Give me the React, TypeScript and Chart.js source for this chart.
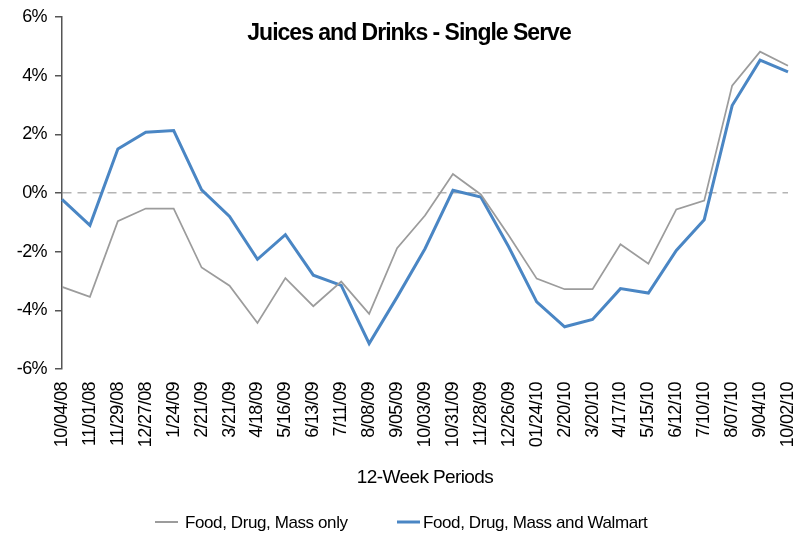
import React, { useEffect, useRef } from 'react';
import { Chart, registerables } from 'chart.js';

Chart.register(...registerables);

const TITLE = 'Juices and Drinks - Single Serve';
const X_TITLE = '12-Week Periods';

const periods = [
  '10/04/08', '11/01/08', '11/29/08', '12/27/08', '1/24/09', '2/21/09', '3/21/09',
  '4/18/09', '5/16/09', '6/13/09', '7/11/09', '8/08/09', '9/05/09', '10/03/09',
  '10/31/09', '11/28/09', '12/26/09', '01/24/10', '2/20/10', '3/20/10', '4/17/10',
  '5/15/10', '6/12/10', '7/10/10', '8/07/10', '9/04/10', '10/02/10',
];

const fdmOnly = [
  -3.2, -3.54, -0.96, -0.53, -0.53, -2.54, -3.16, -4.43, -2.9, -3.86, -3.02, -4.12, -1.88,
  -0.77, 0.65, -0.05, -1.45, -2.92, -3.28, -3.28, -1.75, -2.41, -0.56, -0.26, 3.66, 4.82, 4.34,
];

const fdmWalmart = [
  -0.22, -1.1, 1.5, 2.07, 2.13, 0.11, -0.8, -2.26, -1.42, -2.8, -3.15, -5.13, -3.55,
  -1.9, 0.09, -0.14, -1.84, -3.71, -4.56, -4.31, -3.26, -3.41, -1.96, -0.91, 2.98, 4.53, 4.13,
];

const seriesNames = ['Food, Drug, Mass only', 'Food, Drug, Mass and Walmart'];
const seriesColors = ['#9c9c9c', '#4a86c4'];

const FONT = '"Liberation Sans", Arial, sans-serif';

const spacingPlugin = {
  id: 'tightText',
  beforeDraw(chart: any) {
    chart.ctx.letterSpacing = '-0.6px';
  },
};

const titlePlugin = {
  id: 'overlayTitle',
  afterDraw(chart: any) {
    const ctx = chart.ctx;
    ctx.save();
    ctx.letterSpacing = '-1px';
    ctx.font = `bold 23px ${FONT}`;
    ctx.fillStyle = '#000';
    ctx.textAlign = 'center';
    ctx.textBaseline = 'alphabetic';
    ctx.fillText(TITLE, 409, 40);
    ctx.restore();
  },
};

const legendPlugin = {
  id: 'bottomLegend',
  afterDraw(chart: any) {
    const ctx = chart.ctx;
    const ds = chart.data.datasets;
    const items = [
      { lineX: 155, textX: 185 },
      { lineX: 397, textX: 423 },
    ];
    ctx.save();
    ctx.letterSpacing = '-0.4px';
    ctx.font = `17px ${FONT}`;
    ctx.textAlign = 'left';
    ctx.textBaseline = 'middle';
    const y = 522;
    items.forEach((it, i) => {
      const d = ds[i];
      ctx.strokeStyle = d.borderColor;
      ctx.lineWidth = i === 0 ? 2 : 3;
      ctx.beginPath();
      ctx.moveTo(it.lineX, y);
      ctx.lineTo(it.lineX + 23, y);
      ctx.stroke();
      ctx.fillStyle = '#000';
      ctx.fillText(d.label, it.textX, y + 1);
    });
    ctx.restore();
  },
};

export default function App() {
  const canvasRef = useRef<HTMLCanvasElement | null>(null);

  useEffect(() => {
    if (!canvasRef.current) return;
    const chart = new Chart(canvasRef.current, {
      type: 'line',
      data: {
        labels: periods,
        datasets: [
          {
            label: seriesNames[0],
            data: fdmOnly,
            borderColor: seriesColors[0],
            backgroundColor: seriesColors[0],
            borderWidth: 1.75,
            pointRadius: 0,
            tension: 0,
            fill: false,
          },
          {
            label: seriesNames[1],
            data: fdmWalmart,
            borderColor: seriesColors[1],
            backgroundColor: seriesColors[1],
            borderWidth: 3,
            pointRadius: 0,
            tension: 0,
            fill: false,
          },
        ],
      },
      options: {
        animation: false,
        responsive: true,
        maintainAspectRatio: false,
        layout: { padding: { top: 17, right: 17, bottom: 40, left: 0 } },
        plugins: {
          legend: { display: false },
          title: { display: false },
          tooltip: { enabled: false },
        },
        scales: {
          x: {
            type: 'category',
            offset: false,
            grid: { display: false, drawTicks: false },
            border: { display: false },
            ticks: {
              autoSkip: false,
              maxRotation: 90,
              minRotation: 90,
              padding: 13,
              color: '#000',
              font: { family: FONT, size: 18 },
            },
            title: {
              display: true,
              text: X_TITLE,
              color: '#000',
              font: { family: FONT, size: 19 },
              padding: { top: 4, bottom: 9 },
            },
            afterFit: (s: any) => {
              s.height = 129;
              s.paddingLeft = 0;
              s.paddingRight = 0;
            },
          },
          y: {
            min: -6,
            max: 6,
            ticks: {
              stepSize: 2,
              padding: 8,
              color: '#000',
              font: { family: FONT, size: 18 },
              callback: (v: any) => `${v}%`,
            },
            grid: {
              display: true,
              drawOnChartArea: true,
              drawTicks: true,
              tickLength: 7,
              lineWidth: 1.5,
              tickWidth: 1.5,
              tickColor: '#555',
              color: (c: any) => (c.tick && c.tick.value === 0 ? '#b4b4b4' : 'rgba(0,0,0,0)'),
            },
            border: { display: true, color: '#555', width: 1.5, dash: [9, 6] },
            afterFit: (s: any) => {
              s.width = 62;
              s.paddingTop = 0;
              s.paddingBottom = 0;
            },
          },
        },
      },
      plugins: [spacingPlugin, titlePlugin, legendPlugin],
    });
    return () => chart.destroy();
  }, []);

  return (
    <div style={{ position: 'fixed', left: 0, top: 0, width: 805, height: 538, background: '#fff' }}>
      <canvas ref={canvasRef} />
    </div>
  );
}
